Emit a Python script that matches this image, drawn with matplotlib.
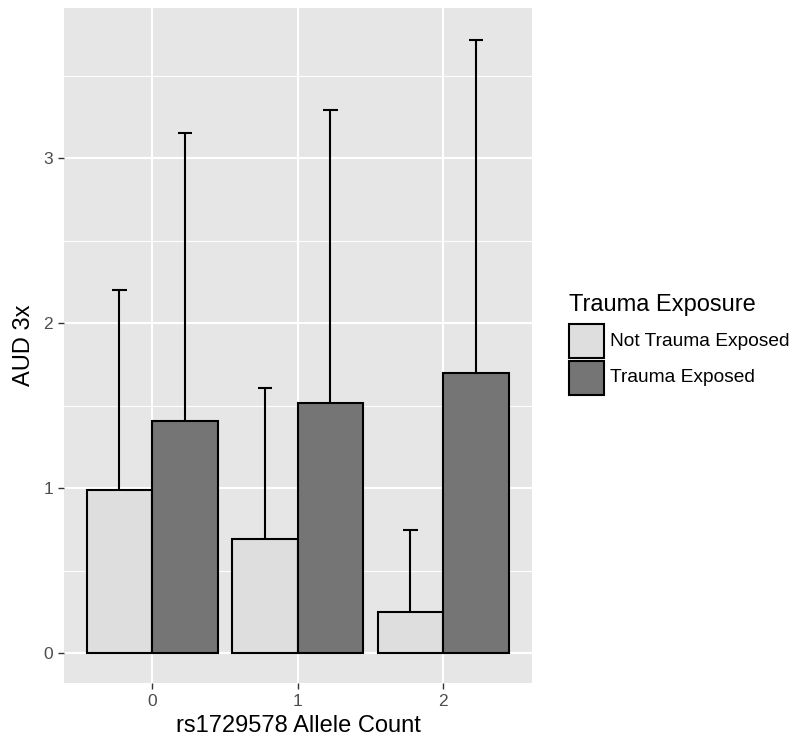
import matplotlib.pyplot as plt
from matplotlib.patches import Rectangle
import numpy as np

plt.rcParams['font.family'] = ['Liberation Sans', 'DejaVu Sans']

allele_counts = ["0", "1", "2"]
groups = ["Not Trauma Exposed", "Trauma Exposed"]
not_exposed = [0.99, 0.69, 0.25]
not_exposed_upper = [2.20, 1.61, 0.75]
exposed = [1.41, 1.515, 1.70]
exposed_upper = [3.15, 3.29, 3.715]

colors = ["#dedede", "#757575"]

fig = plt.figure(figsize=(7.94, 7.45), dpi=100)
ax = fig.add_axes([64 / 794, (745 - 683) / 745, 468 / 794, 675 / 745])
ax.set_facecolor("#e6e6e6")

x = np.arange(len(allele_counts))
w = 0.45
for i, (means, uppers) in enumerate([(not_exposed, not_exposed_upper), (exposed, exposed_upper)]):
    pos = x + (i - 0.5) * w
    ax.bar(pos, means, width=w, color=colors[i], edgecolor="black", linewidth=1.5, zorder=3)
    for p, m, u in zip(pos, means, uppers):
        ax.plot([p, p], [m, u], color="black", lw=1.5, zorder=2, solid_capstyle="butt")
        ax.plot([p - 0.05, p + 0.05], [u, u], color="black", lw=1.5, zorder=2, solid_capstyle="butt")

ax.set_xlim(-0.605, 2.61)
ax.set_ylim(-0.18, 3.91)
ax.set_xticks(x)
ax.set_xticklabels(allele_counts)
ax.set_yticks([0, 1, 2, 3])
ax.set_yticks([0.5, 1.5, 2.5, 3.5], minor=True)
ax.grid(True, which="major", color="white", lw=1.5, zorder=0)
ax.grid(True, which="minor", axis="y", color="white", lw=0.7, zorder=0)
ax.set_axisbelow(True)
for s in ax.spines.values():
    s.set_visible(False)
ax.tick_params(which="major", length=4, width=1, color="#333333", labelcolor="#4d4d4d", labelsize=12.5, pad=4)
ax.tick_params(which="minor", length=0)

ax.set_xlabel("rs1729578 Allele Count", fontsize=17, color="black", labelpad=4)
ax.set_ylabel("AUD 3x", fontsize=17, color="black", labelpad=6)

# legend
fig.text(569 / 794, 1 - 305 / 745, "Trauma Exposure", fontsize=17, va="center", ha="left")
for i, g in enumerate(groups):
    top = 324 + i * 37
    fig.patches.append(Rectangle((569 / 794, 1 - (top + 34) / 745), 35 / 794, 34 / 745,
                                 transform=fig.transFigure, facecolor=colors[i],
                                 edgecolor="black", linewidth=1.5))
    fig.text(610 / 794, 1 - (top + 17) / 745, g, fontsize=13.8, va="center", ha="left")

fig.savefig("out.png", dpi=100)
